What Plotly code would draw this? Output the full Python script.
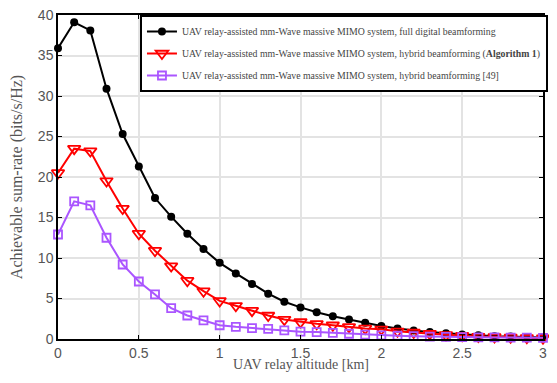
import plotly.graph_objects as go

altitude_km = [round(0.1 * i, 1) for i in range(31)]

full_digital = [35.9, 39.1, 38.1, 30.9, 25.3, 21.3, 17.4, 15.1, 13.0, 11.1,
                9.4, 8.1, 6.8, 5.6, 4.6, 3.9, 3.3, 2.8, 2.4, 2.0,
                1.6, 1.3, 1.06, 0.85, 0.7, 0.55, 0.45, 0.35, 0.3, 0.25, 0.2]

hybrid_alg1 = [20.5, 23.5, 23.2, 19.5, 16.1, 13.0, 10.9, 9.0, 7.2, 5.9,
               4.7, 4.1, 3.5, 2.9, 2.4, 2.1, 1.87, 1.7, 1.5, 1.3,
               1.2, 0.95, 0.8, 0.65, 0.5, 0.4, 0.3, 0.25, 0.2, 0.15, 0.1]

hybrid_ref49 = [12.9, 17.0, 16.5, 12.5, 9.2, 7.1, 5.5, 3.8, 2.9, 2.3,
                1.7, 1.5, 1.35, 1.25, 1.06, 0.9, 0.85, 0.75, 0.65, 0.55,
                0.45, 0.4, 0.35, 0.3, 0.27, 0.24, 0.21, 0.19, 0.17, 0.16, 0.15]

names = [
    "UAV relay-assisted mm-Wave massive MIMO system, full digital beamforming",
    "UAV relay-assisted mm-Wave massive MIMO system, hybrid beamforming (<b>Algorithm 1</b>)",
    "UAV relay-assisted mm-Wave massive MIMO system, hybrid beamforming [49]",
]

x_title = "UAV relay altitude [km]"
y_title = "Achievable sum-rate (bits/s/Hz)"

x_ticks = [0, 0.5, 1, 1.5, 2, 2.5, 3]
x_tick_labels = ["0", "0.5", "1", "1.5", "2", "2.5", "3"]
y_ticks = [0, 5, 10, 15, 20, 25, 30, 35, 40]

serif = "Liberation Serif, Times New Roman, serif"

fig = go.Figure()
fig.add_trace(go.Scatter(
    x=altitude_km, y=full_digital, name=names[0], mode="lines+markers",
    legendgroup="a",
    line=dict(color="black", width=2),
    marker=dict(symbol="circle", size=8, color="black"),
    cliponaxis=False))
fig.add_trace(go.Scatter(
    x=altitude_km, y=hybrid_alg1, name=names[1], mode="lines+markers",
    legendgroup="b",
    line=dict(color="#ff0000", width=2),
    marker=dict(symbol="triangle-down-open", size=11, color="#ff0000",
                line=dict(width=1.8, color="#ff0000")),
    cliponaxis=False))
fig.add_trace(go.Scatter(
    x=altitude_km, y=hybrid_ref49, name=names[2], mode="lines+markers",
    legendgroup="c",
    line=dict(color="#aa55ff", width=2),
    marker=dict(symbol="square-open", size=8, color="#aa55ff",
                line=dict(width=1.8, color="#aa55ff")),
    cliponaxis=False))

axis_common = dict(
    showline=True, linecolor="black", linewidth=1.5, mirror="ticks",
    ticks="inside", ticklen=4, tickcolor="black",
    showgrid=True, gridcolor="#e3e3e3", gridwidth=1.5, zeroline=False,
    automargin=False, ticklabeloverflow="allow",
    tickfont=dict(family="Liberation Sans, Arial", size=14, color="#555555"),
)

# the page body adds an 8px offset; keep the figure inside the window
fig.update_layout(
    width=541, height=367,
    margin=dict(l=50, r=1, t=7, b=36),
    plot_bgcolor="white", paper_bgcolor="white",
    xaxis=dict(range=[0, 3], tickvals=x_ticks, ticktext=x_tick_labels,
               **axis_common),
    yaxis=dict(range=[0, 40], tickvals=y_ticks,
               title=dict(text=y_title, standoff=21,
                          font=dict(family=serif, size=16, color="#555555")),
               **axis_common),
    legend=dict(x=0.169, y=1.0, xanchor="left", yanchor="top",
                bgcolor="white", bordercolor="black", borderwidth=2,
                font=dict(family=serif, size=9.8, color="#444444"),
                itemwidth=30, tracegroupgap=3),
    showlegend=True,
    annotations=[dict(text=x_title, xref="paper", yref="paper", x=0.5, y=0,
                      xanchor="center", yanchor="top", yshift=-16,
                      showarrow=False,
                      font=dict(family=serif, size=14, color="#555555"))],
)

fig.write_html("out.html")
